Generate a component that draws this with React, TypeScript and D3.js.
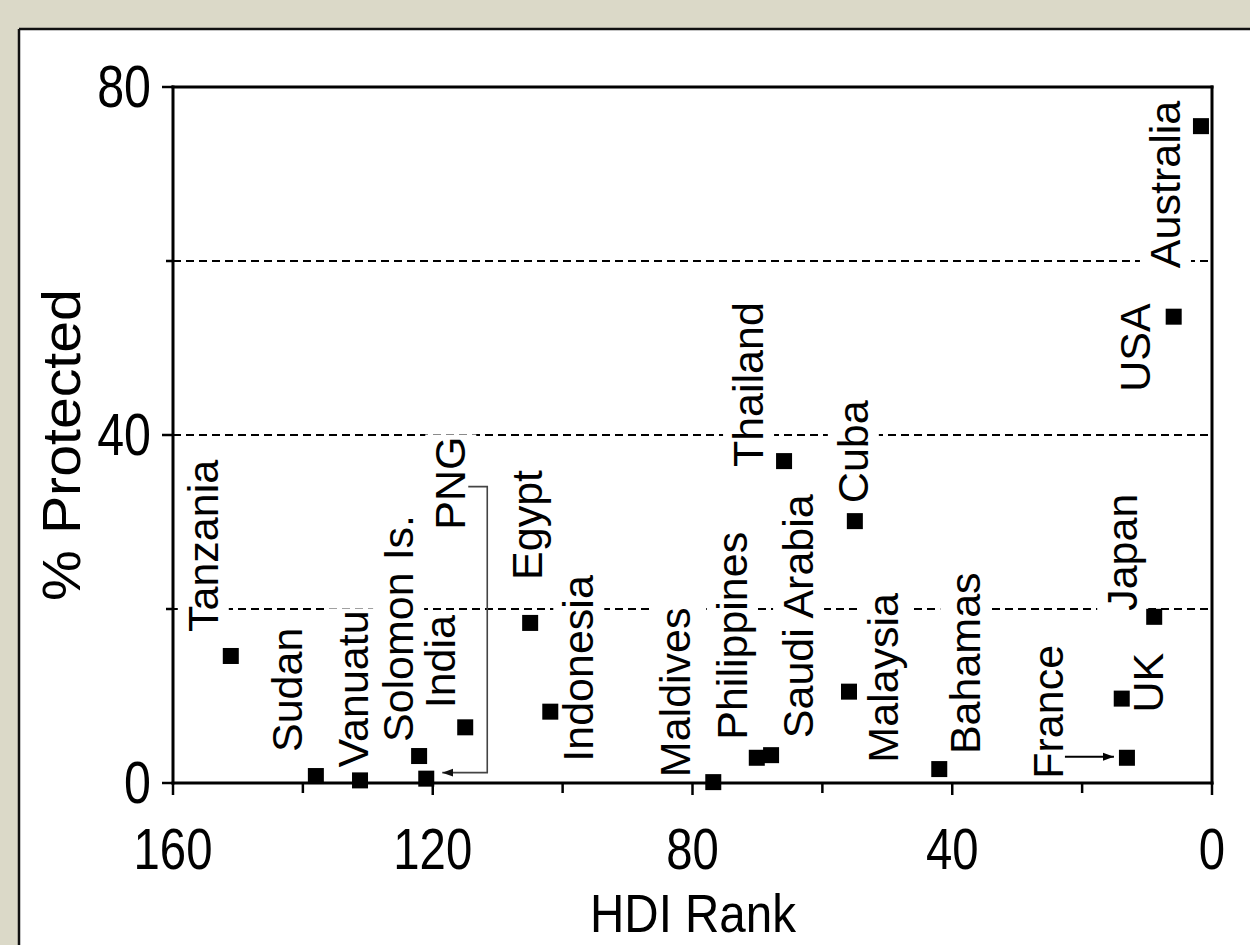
import React, { useEffect, useRef } from 'react';
import * as d3 from 'd3';

// ---- data ----
const countries = ['Tanzania', 'Sudan', 'Vanuatu', 'Solomon Is.', 'PNG', 'India', 'Egypt', 'Indonesia', 'Maldives', 'Philippines', 'Saudi Arabia', 'Thailand', 'Cuba', 'Malaysia', 'Bahamas', 'France', 'UK', 'Japan', 'USA', 'Australia'];
const hdiRank = [151.1, 138.0, 131.2, 122.1, 121.0, 115.0, 105.0, 101.9, 76.8, 70.1, 67.9, 65.9, 55.0, 55.9, 42.0, 13.1, 13.9, 8.9, 5.9, 1.7];
const pctProtected = [14.6, 0.8, 0.3, 3.1, 0.5, 6.4, 18.4, 8.2, 0.1, 2.9, 3.2, 37.0, 30.1, 10.5, 1.6, 2.9, 9.7, 19.1, 53.6, 75.5];
const xTicks = [160, 140, 120, 100, 80, 60, 40, 20, 0];
const xTickLabels = [160, 120, 80, 40, 0];
const yTicks = [0, 20, 40, 60, 80];
const yTickLabels = [0, 40, 80];
const gridValues = [20, 40, 60];
const xTitle = 'HDI Rank';
const yTitle = '% Protected';

// ---- label layout (pixel offsets of label baseline/start from its marker) ----
const labelOffsets: [number, number][] = [
  [-13, -24], [-14, -24], [8, -13], [-6, -14], [39, -249], [-10, -19], [12, -43], [43, 50],
  [-23, -5], [-10, -18], [42, -17], [-21, 6], [13, -18], [49, 71], [41, -15], [-64, 21],
  [41, 14], [-17, -6], [-24, 75], [-21, 142],
];

const W = 1250;
const H = 945;
const FONT = '"Liberation Sans", Arial, Helvetica, sans-serif';

export default function App() {
  const ref = useRef<SVGSVGElement | null>(null);

  useEffect(() => {
    const svg = d3.select(ref.current);
    svg.selectAll('*').remove();

    const x = d3.scaleLinear().domain([160, 0]).range([173, 1212]);
    const y = d3.scaleLinear().domain([0, 80]).range([783, 87]);

    const defs = svg.append('defs');
    defs.append('marker').attr('id', 'arrBlack').attr('markerUnits', 'userSpaceOnUse')
      .attr('markerWidth', 12).attr('markerHeight', 10).attr('refX', 11).attr('refY', 5).attr('orient', 'auto')
      .append('path').attr('d', 'M0,1 L11,5 L0,9 Z').attr('fill', '#000');
    defs.append('marker').attr('id', 'arrGrey').attr('markerUnits', 'userSpaceOnUse')
      .attr('markerWidth', 12).attr('markerHeight', 10).attr('refX', 11).attr('refY', 5).attr('orient', 'auto')
      .append('path').attr('d', 'M0,1 L11,5 L0,9 Z').attr('fill', '#111');

    // background
    svg.append('rect').attr('x', 0).attr('y', 0).attr('width', W).attr('height', H).attr('fill', '#dbd9c8');
    svg.append('rect').attr('x', 19).attr('y', 29).attr('width', W).attr('height', H).attr('fill', '#fff');
    svg.append('line').attr('x1', 19).attr('x2', W).attr('y1', 29).attr('y2', 29).attr('stroke', '#111').attr('stroke-width', 2.5);
    svg.append('line').attr('x1', 19).attr('x2', 19).attr('y1', 29).attr('y2', H).attr('stroke', '#111').attr('stroke-width', 2.5);

    // gridlines
    svg.append('g').selectAll('line').data(gridValues).join('line')
      .attr('x1', x(160)).attr('x2', x(0)).attr('y1', (d) => y(d)).attr('y2', (d) => y(d))
      .attr('stroke', '#000').attr('stroke-width', 1.8).attr('stroke-dasharray', '8,5');

    // labels with white boxes
    const lg = svg.append('g');
    countries.forEach((c, i) => {
      const [dx, dy] = labelOffsets[i];
      const g = lg.append('g').attr('transform', `translate(${x(hdiRank[i]) + dx},${y(pctProtected[i]) + dy}) rotate(-90)`);
      const rect = g.append('rect').attr('fill', '#fff');
      const t = g.append('text').attr('x', 0).attr('y', 0).attr('text-anchor', 'start')
        .attr('font-family', FONT).attr('font-size', 43).attr('fill', '#000').text(c);
      const bb = (t.node() as SVGTextElement).getBBox();
      rect.attr('x', bb.x - 2).attr('y', bb.y - 1).attr('width', bb.width + 4).attr('height', bb.height + 3);
    });

    // markers
    svg.append('g').selectAll('rect').data(countries).join('rect')
      .attr('x', (_d, i) => x(hdiRank[i]) - 8).attr('y', (_d, i) => y(pctProtected[i]) - 8)
      .attr('width', 16).attr('height', 16).attr('fill', '#000');

    // annotation arrows
    const iPNG = countries.indexOf('PNG');
    const px = x(hdiRank[iPNG]);
    const py = y(pctProtected[iPNG]);
    svg.append('path').attr('d', `M${px + 42},${py - 292} H${px + 61} V${py - 6} H${px + 16}`)
      .attr('fill', 'none').attr('stroke', '#444').attr('stroke-width', 1.6).attr('marker-end', 'url(#arrGrey)');
    const iFr = countries.indexOf('France');
    const fx = x(hdiRank[iFr]);
    const fy = y(pctProtected[iFr]);
    svg.append('path').attr('d', `M${fx - 62},${fy - 1} H${fx - 13}`)
      .attr('fill', 'none').attr('stroke', '#000').attr('stroke-width', 2).attr('marker-end', 'url(#arrBlack)');

    // axes frame
    const ax = svg.append('g').attr('stroke', '#000').attr('stroke-width', 3);
    ax.append('line').attr('x1', x(160)).attr('x2', x(160)).attr('y1', y(80) - 1.5).attr('y2', y(0) + 1.5);
    ax.append('line').attr('x1', x(0)).attr('x2', x(0)).attr('y1', y(80) - 1.5).attr('y2', y(0) + 1.5);
    ax.append('line').attr('x1', x(160) - 1.5).attr('x2', x(0) + 1.5).attr('y1', y(0)).attr('y2', y(0));
    ax.append('line').attr('x1', x(160) - 1.5).attr('x2', x(0) + 1.5).attr('y1', y(80)).attr('y2', y(80));

    // ticks
    ax.append('g').selectAll('line').data(xTicks).join('line')
      .attr('x1', (d) => x(d)).attr('x2', (d) => x(d)).attr('y1', y(0))
      .attr('y2', (d) => y(0) + (xTickLabels.includes(d) ? 12 : 10)).attr('stroke-width', 2.5);
    ax.append('g').selectAll('line').data(yTicks).join('line')
      .attr('y1', (d) => y(d)).attr('y2', (d) => y(d)).attr('x1', x(160))
      .attr('x2', (d) => x(160) - (yTickLabels.includes(d) ? 11 : 7)).attr('stroke-width', 2.5);

    // tick labels
    svg.append('g').selectAll('text').data(xTickLabels).join('text')
      .attr('transform', (d) => `translate(${x(d)},869) scale(0.83,1)`)
      .attr('text-anchor', 'middle').attr('font-family', FONT).attr('font-size', 57).attr('fill', '#000')
      .text((d) => String(d));
    svg.append('g').selectAll('text').data(yTickLabels).join('text')
      .attr('transform', (d) => `translate(151,${y(d) + 20}) scale(0.82,1)`)
      .attr('text-anchor', 'end').attr('font-family', FONT).attr('font-size', 59).attr('fill', '#000')
      .text((d) => String(d));

    // titles
    svg.append('text').attr('transform', `translate(693,932) scale(0.88,1)`)
      .attr('text-anchor', 'middle').attr('font-family', FONT).attr('font-size', 54).attr('fill', '#000').text(xTitle);
    svg.append('text').attr('transform', `translate(80,445) rotate(-90) scale(1.08,1)`)
      .attr('text-anchor', 'middle').attr('font-family', FONT).attr('font-size', 53).attr('fill', '#000').text(yTitle);
  }, []);

  return (
    <svg ref={ref} width={W} height={H} style={{ position: 'absolute', left: 0, top: 0, display: 'block' }} />
  );
}
